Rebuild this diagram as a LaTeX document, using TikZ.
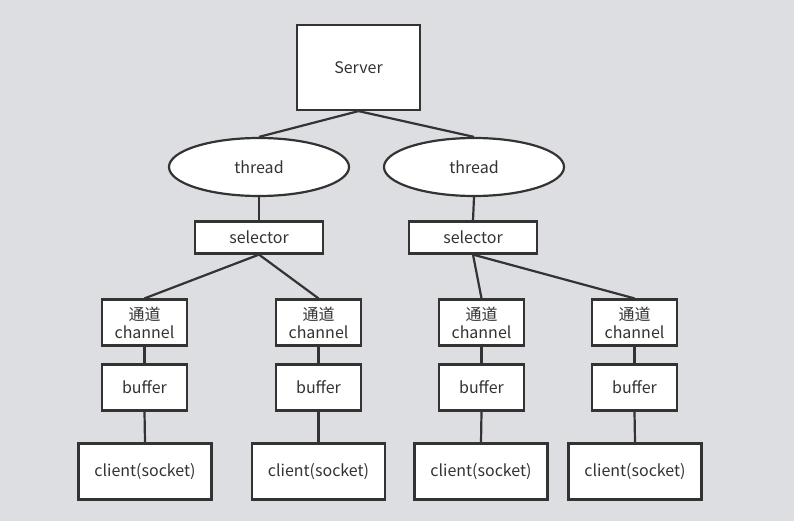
\documentclass[tikz,border=0pt]{standalone}
\usepackage{fontspec}
\setmainfont{Noto Sans CJK SC}
\usetikzlibrary{shapes.geometric}
\definecolor{bg}{RGB}{221,222,226}
\definecolor{ln}{RGB}{51,51,51}
\definecolor{tx}{RGB}{51,51,51}
\begin{document}
\begin{tikzpicture}[x=1pt,y=-1pt,
  every node/.style={font=\fontsize{16}{19}\selectfont, text=tx},
  box/.style={draw=ln, line width=2.2pt, fill=white, inner sep=0pt, align=center},
  serverbox/.style={box, minimum width=123pt, minimum height=85pt},
  threadell/.style={ellipse, draw=ln, line width=2.2pt, fill=white, inner sep=0pt, minimum width=180pt, minimum height=58pt},
  selbox/.style={box, minimum width=128pt, minimum height=32pt},
  chbox/.style={box, minimum width=85pt, minimum height=46pt},
  clbox/.style={box, minimum width=133pt, minimum height=56pt},
  conn/.style={draw=ln, line width=2.2pt}]
\fill[bg] (0,0) rectangle (794,521);
\useasboundingbox (0,0) rectangle (794,521);
\node[serverbox] (server) at (358.5,67.5) {Server};
\node[threadell] (t1) at (259,167) {thread};
\node[threadell] (t2) at (474,167) {thread};
\node[selbox] (s1) at (259,237.5) {selector};
\node[selbox] (s2) at (473,237.5) {selector};
\foreach \i/\x in {1/144.5,2/318.5,3/481.5,4/634.5}{
  \node[chbox] (c\i) at (\x,322.5) {通道\\[-1pt]channel};
  \node[chbox] (b\i) at (\x,387.5) {buffer};
}
\node[clbox] (k1) at (145,471.5) {client(socket)};
\node[clbox] (k2) at (318.5,471.5) {client(socket)};
\node[clbox] (k3) at (481,471.5) {client(socket)};
\node[clbox] (k4) at (635,471.5) {client(socket)};
\draw[conn] (server.south) -- (t1.north);
\draw[conn] (server.south) -- (t2.north);
\draw[conn] (t1.south) -- (s1.north);
\draw[conn] (t2.south) -- (s2.north);
\draw[conn] (s1.south) -- (c1.north);
\draw[conn] (s1.south) -- (c2.north);
\draw[conn] (s2.south) -- (c3.north);
\draw[conn] (s2.south) -- (c4.north);
\foreach \i in {1,2,3,4}{
  \draw[conn] (c\i.south) -- (b\i.north);
  \draw[conn] (b\i.south) -- (k\i.north);
}
\end{tikzpicture}
\end{document}
